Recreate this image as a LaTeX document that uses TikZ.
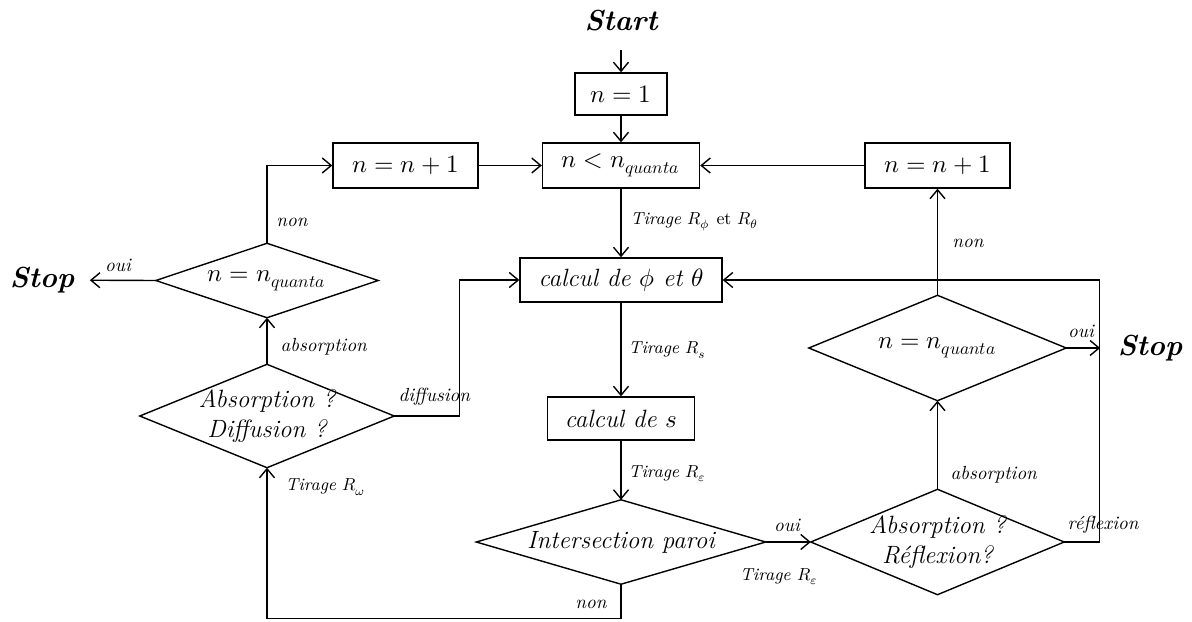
\documentclass[tikz,border=0pt]{standalone}
\usepackage{fontspec}
\usepackage{unicode-math}
\setmathfont{Latin Modern Math}
\usetikzlibrary{arrows.meta}
\begin{document}
\begin{tikzpicture}[x=0.5pt,y=-0.5pt,
  line width=0.7pt,
  arr/.style={-{Straight Barb[length=4.5pt,width=7.5pt]}},
  box/.style={draw,rectangle,inner sep=0pt,font=\fontsize{12.5}{14}\selectfont},
  dia/.style={rectangle,inner sep=0pt,font=\fontsize{12.5}{15}\selectfont\itshape,align=center,
    append after command={\pgfextra{\let\dianame\tikzlastnode}
      (\tikzlastnode.north) -- (\tikzlastnode.east) -- (\tikzlastnode.south) -- (\tikzlastnode.west) -- cycle}},
  lbl/.style={font=\fontsize{9.5}{11}\selectfont\itshape,inner sep=0pt},
  tlbl/.style={font=\fontsize{8.7}{10}\selectfont\itshape,inner sep=0pt},
  term/.style={font=\fontsize{14.5}{16}\selectfont\bfseries\itshape,inner sep=0pt}]
\useasboundingbox (0,0) rectangle (1192,621);
% nodes
\node[term] (start) at (621,21) {Start};
\node[box,minimum width=46pt,minimum height=21pt] (n1) at (621,94) {$n=1$};
\node[box,minimum width=78.5pt,minimum height=22.5pt] (lt) at (621,165.5) {$n<n_{quanta}$};
\node[box,minimum width=72.5pt,minimum height=22.5pt] (inc1) at (405.5,165.5) {$n=n+1$};
\node[box,minimum width=72.5pt,minimum height=22.5pt] (inc2) at (937.5,165.5) {$n=n+1$};
\node[box,minimum width=101pt,minimum height=22pt] (calc) at (621,280) {\itshape calcul de $\phi$ et $\theta$};
\node[box,minimum width=73.5pt,minimum height=21.5pt] (cs) at (621,418.5) {\itshape calcul de $s$};
\draw node[dia,minimum width=144pt,minimum height=41.5pt] (inter) at (621,542) {Intersection paroi};
\draw node[dia,minimum width=126pt,minimum height=52pt] (ar) at (937.5,542) {Absorption ?\\Réflexion?};
\draw node[dia,minimum width=128pt,minimum height=52pt] (nq2) at (937.5,348) {$n=n_{quanta}$};
\draw node[dia,minimum width=110.5pt,minimum height=36.5pt] (nq1) at (267,280.5) {$n=n_{quanta}$};
\draw node[dia,minimum width=126.5pt,minimum height=51pt] (ad) at (267,416) {Absorption ?\\Diffusion ?};
\node[term] (stopL) at (42,280) {Stop};
\node[term] (stopR) at (1150,348) {Stop};
% connectors
\draw[arr,shorten <=9pt] (start) -- (n1);
\draw[arr] (n1) -- (lt);
\draw[arr] (lt) -- (calc);
\draw[arr] (inc1) -- (lt);
\draw[arr] (inc2) -- (lt);
\draw[arr] (calc) -- (cs);
\draw[arr] (cs) -- (inter);
\draw[arr] (inter) -- (ar);
\draw[arr] (ar) -- (nq2);
\draw[arr] (nq2) -- (inc2);
\draw[arr,shorten >=8.5pt] (nq2.east) -- (stopR);
\draw[arr] (ar.east) -- ++(35,0) |- (calc.east);
\draw[arr] (inter.south) -- ++(0,34) -| (ad.south);
\draw[arr] (ad.east) -- ++(65.5,0) |- (calc.west);
\draw[arr] (ad) -- (nq1);
\draw[arr] (nq1.north) |- (inc1.west);
\draw[arr,shorten >=7.5pt] (nq1.west) -- (stopL);
% labels
\node[tlbl,anchor=west] (l1) at (630,222) {Tirage $R_\phi$ \upshape et $R_\theta$};
\node[tlbl,anchor=west] (l2) at (628,350) {Tirage $R_s$};
\node[tlbl,anchor=west] (l3) at (628,474) {Tirage $R_\varepsilon$};
\node[tlbl] (l4) at (779,577) {Tirage $R_\varepsilon$};
\node[tlbl,anchor=west] (l5) at (285,487) {Tirage $R_\omega$};
\node[lbl] (l6) at (787,525) {oui};
\node[lbl,anchor=west] (l7) at (950,475) {absorption};
\node[lbl,anchor=west] (l8) at (1067,525) {réflexion};
\node[lbl] (l9) at (968,243) {non};
\node[lbl] (l10) at (1081,331) {oui};
\node[lbl] (l11) at (292,222) {non};
\node[lbl] (l12) at (118,265) {oui};
\node[lbl,anchor=west] (l13) at (280,347) {absorption};
\node[lbl,anchor=west] (l14) at (398,397) {diffusion};
\node[lbl] (l15) at (591,604) {non};
\end{tikzpicture}
\end{document}
